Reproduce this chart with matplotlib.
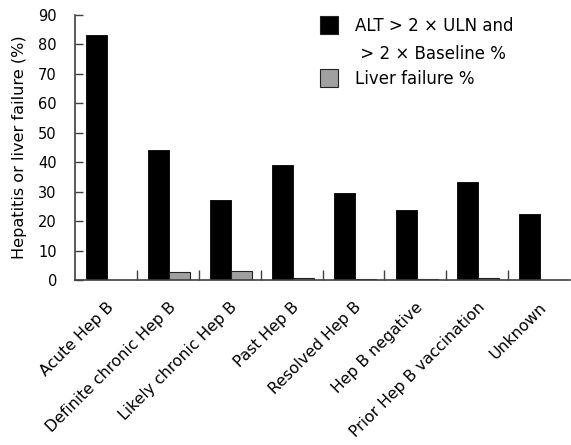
import numpy as np
import matplotlib.pyplot as plt
from matplotlib.patches import Rectangle

plt.rcParams['font.family'] = 'DejaVu Sans'
plt.rcParams['font.size'] = 10.5

categories = ['Acute Hep B', 'Definite chronic Hep B', 'Likely chronic Hep B',
              'Past Hep B', 'Resolved Hep B', 'Hep B negative',
              'Prior Hep B vaccination', 'Unknown']
alt_pct = [83.3, 44.0, 27.2, 38.9, 29.7, 23.8, 33.4, 22.4]
liver_failure_pct = [0.0, 2.6, 3.0, 0.7, 0.2, 0.2, 0.8, 0.0]
yticks = [0, 10, 20, 30, 40, 50, 60, 70, 80, 90]

fig = plt.figure(figsize=(5.71, 4.45), dpi=100)
ax = fig.add_axes([0.1313, 0.3708, 0.8670, 0.5955])

x = np.arange(len(categories))
width = 0.34
ax.bar(x - 0.15, alt_pct, width, color='black', edgecolor='black', linewidth=0.6)
ax.bar(x + 0.19, liver_failure_pct, width, color='#a0a0a0', edgecolor='#222222', linewidth=0.8)

ax.set_xlim(-0.5, len(categories) - 0.5)
ax.set_ylim(0, 90)
ax.set_yticks(yticks)
ax.set_ylabel('Hepatitis or liver failure (%)', fontsize=11.6, labelpad=8)

ax.set_xticks(x)
ax.set_xticklabels(categories, rotation=45, ha='right', rotation_mode='anchor', fontsize=11.3)
ax.set_xticks(x[:-1] + 0.5, minor=True)
ax.tick_params(axis='x', which='major', length=0, pad=14)
ax.tick_params(axis='x', which='minor', direction='in', length=7, width=1, color='#404040')
ax.tick_params(axis='y', direction='in', length=6, width=1, color='#404040', pad=13)

for side in ['top', 'right']:
    ax.spines[side].set_visible(False)
for side in ['left', 'bottom']:
    ax.spines[side].set_color('#404040')
    ax.spines[side].set_linewidth(1.2)

# hand-made legend, first handle lined up with first text line
for y0, col, txt in [(0.964, 'black', 'ALT > 2 × ULN and\n > 2 × Baseline %'),
                     (0.845, '#a0a0a0', 'Liver failure %')]:
    fig.patches.append(Rectangle((0.561, y0 - 0.040), 0.031, 0.040, facecolor=col,
                                 edgecolor='#222222', linewidth=0.8,
                                 transform=fig.transFigure, figure=fig))
    fig.text(0.621, y0 - 0.002, txt, ha='left', va='top', fontsize=12,
             linespacing=1.7)

fig.savefig('out.png', dpi=100, facecolor='white')
